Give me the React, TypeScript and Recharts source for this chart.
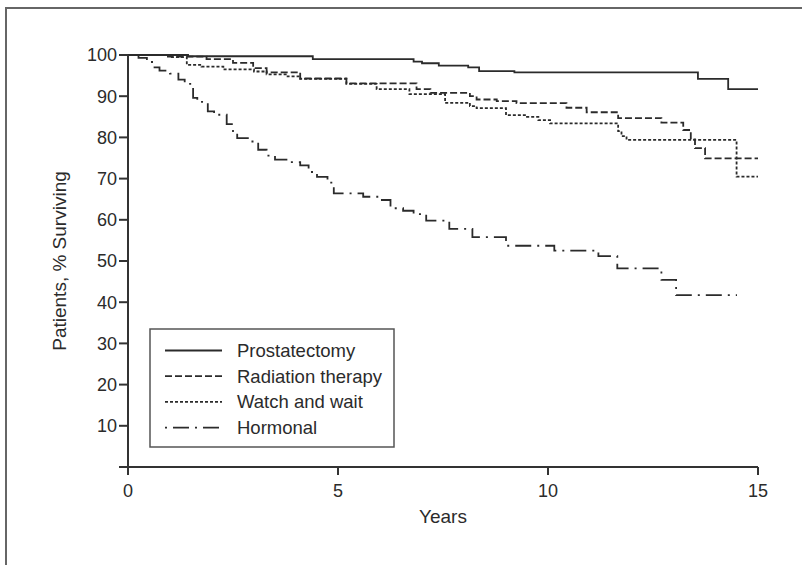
import React from 'react';
import { LineChart, Line, XAxis, YAxis, Customized } from 'recharts';

// Kaplan–Meier survival estimates (years from diagnosis, % surviving)
const prostatectomyYears = [0, 1.43, 4.4, 6.8, 7.0, 7.4, 8.1, 8.36, 9.2, 13.57, 14.29, 15.0];
const prostatectomyPct = [100, 99.7, 99.0, 98.4, 98.0, 97.4, 97.0, 96.1, 95.8, 94.2, 91.7, 91.7];

const radiationYears = [0, 0.95, 1.87, 2.5, 2.98, 3.3, 4.1, 5.2, 6.87, 7.2, 8.14, 8.3, 8.78, 9.25, 10.44, 10.92, 11.67, 12.7, 13.22, 13.4, 13.5, 13.74, 15.0];
const radiationPct = [100, 99.6, 99.0, 98.1, 96.8, 95.8, 94.3, 93.1, 91.7, 90.8, 90.0, 89.2, 88.8, 88.3, 87.2, 86.1, 84.7, 83.6, 81.8, 79.5, 77.4, 74.9, 74.9];

const watchYears = [0, 1.0, 1.4, 1.75, 2.27, 3.0, 3.3, 3.8, 4.1, 5.2, 5.92, 6.7, 7.55, 8.14, 8.3, 9.0, 9.5, 9.77, 10.05, 11.67, 11.75, 11.87, 14.49, 15.0];
const watchPct = [100, 99.5, 97.6, 97.2, 96.5, 96.0, 95.3, 94.8, 94.2, 93.0, 91.7, 90.5, 88.4, 87.6, 87.1, 85.4, 85.0, 84.2, 83.4, 81.5, 80.3, 79.4, 70.5, 70.5];

const hormonalYears = [0, 0.25, 0.45, 0.6, 0.75, 1.0, 1.2, 1.35, 1.55, 1.65, 1.9, 2.05, 2.35, 2.5, 2.6, 2.9, 3.1, 3.3, 3.5, 3.8, 4.1, 4.3, 4.5, 4.75, 4.9, 5.6, 6.0, 6.25, 6.55, 6.8, 7.1, 7.65, 8.2, 9.0, 10.15, 11.2, 11.65, 12.7, 13.05, 14.5];
const hormonalPct = [100, 99.3, 98.3, 97.0, 96.2, 95.5, 94.0, 93.0, 89.6, 88.6, 86.3, 85.5, 83.2, 81.2, 79.8, 79.0, 77.0, 75.6, 74.6, 74.0, 73.2, 71.6, 70.4, 69.0, 66.4, 65.6, 64.8, 62.8, 62.2, 61.4, 59.8, 57.8, 55.8, 53.7, 52.5, 51.2, 48.2, 45.4, 41.7, 41.7];

const seriesNames = ['Prostatectomy', 'Radiation therapy', 'Watch and wait', 'Hormonal'];
const xTicks = [0, 5, 10, 15];
const yTicks = [0, 10, 20, 30, 40, 50, 60, 70, 80, 90, 100];

const zip = (years: number[], pct: number[]) => years.map((year, i) => ({ year, pct: pct[i] }));

const INK = '#2b2b2b';
const AXIS = '#333333';

const series = [
  { name: seriesNames[0], data: zip(prostatectomyYears, prostatectomyPct), dash: undefined as string | undefined },
  { name: seriesNames[1], data: zip(radiationYears, radiationPct), dash: '7 3' },
  { name: seriesNames[2], data: zip(watchYears, watchPct), dash: '3 2' },
  { name: seriesNames[3], data: zip(hormonalYears, hormonalPct), dash: '2 6 16 6' },
];

const LegendBox = () => (
  <g>
    <rect x={150} y={329} width={244} height={118} fill="#fff" stroke="#555" strokeWidth={1.5} />
    {series.map((s, i) => {
      const y = 350.5 + i * 25.7;
      return (
        <g key={s.name}>
          <line x1={165} x2={222} y1={y} y2={y} stroke={INK} strokeWidth={1.8} strokeDasharray={s.dash} />
          <text x={237} y={y + 6.5} fontSize={18.5} fill={INK}>{s.name}</text>
        </g>
      );
    })}
  </g>
);

export default function App() {
  return (
    <div
      style={{
        position: 'absolute', left: 0, top: 0, width: 802, height: 565, overflow: 'hidden',
        background: '#fff', fontFamily: "'Liberation Sans', Arial, sans-serif",
      }}
    >
      {/* page frame: only the top and left edges fall inside the view */}
      <div style={{ position: 'absolute', left: 5, top: 7, width: 797, height: 2, background: '#666' }} />
      <div style={{ position: 'absolute', left: 5, top: 7, width: 2, height: 558, background: '#666' }} />
      <div style={{ position: 'absolute', left: 0, top: 0 }}>
        <LineChart width={802} height={565} margin={{ top: 55, right: 44, bottom: 38, left: 68 }}>
          <XAxis
            type="number"
            dataKey="year"
            domain={[0, 15]}
            ticks={xTicks}
            allowDataOverflow
            height={60}
            tickSize={8}
            tickMargin={9}
            axisLine={{ stroke: AXIS, strokeWidth: 2 }}
            tickLine={{ stroke: AXIS, strokeWidth: 2 }}
            tick={{ fontSize: 18, fill: INK }}
            label={{ value: 'Years', position: 'insideBottom', offset: 4, fontSize: 19, fill: INK }}
          />
          <YAxis
            type="number"
            domain={[0, 100]}
            ticks={yTicks}
            width={60}
            tickSize={9}
            tickMargin={2}
            tickFormatter={(v: number) => (v === 0 ? '' : String(v))}
            axisLine={{ stroke: AXIS, strokeWidth: 2 }}
            tickLine={{ stroke: AXIS, strokeWidth: 2 }}
            tick={{ fontSize: 18, fill: INK }}
            label={{
              value: 'Patients, % Surviving', angle: -90, position: 'insideLeft', offset: -9,
              fontSize: 19, fill: INK, style: { textAnchor: 'middle' },
            }}
          />
          {series.map((s) => (
            <Line
              key={s.name}
              data={s.data}
              dataKey="pct"
              name={s.name}
              type="stepAfter"
              stroke={INK}
              strokeWidth={1.8}
              strokeDasharray={s.dash}
              dot={false}
              activeDot={false}
              isAnimationActive={false}
            />
          ))}
          <Customized component={LegendBox} />
        </LineChart>
      </div>
    </div>
  );
}
